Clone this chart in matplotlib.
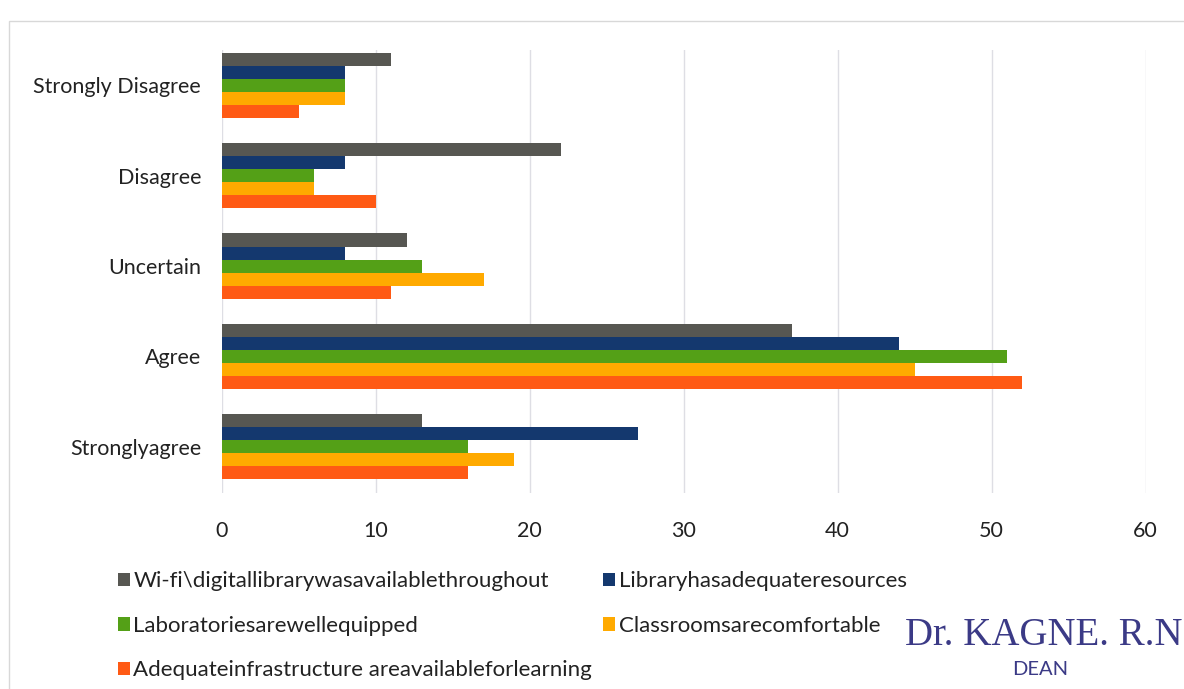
import matplotlib
matplotlib.use("Agg")
import matplotlib.pyplot as plt
import numpy as np
from matplotlib.patches import Rectangle

plt.rcParams['font.family'] = ['Lato', 'DejaVu Sans']

# categories from bottom to top
categories = ['Stronglyagree', 'Agree', 'Uncertain', 'Disagree', 'Strongly Disagree']

series_names = [
    'Wi-fi\\digitallibrarywasavailablethroughout',
    'Libraryhasadequateresources',
    'Laboratoriesarewellequipped',
    'Classroomsarecomfortable',
    'Adequateinfrastructure areavailableforlearning',
]
wifi = [13, 37, 12, 22, 11]
library = [27, 44, 8, 8, 8]
labs = [16, 51, 13, 6, 8]
classrooms = [19, 45, 17, 6, 8]
infra = [16, 52, 11, 10, 5]
colors = ['#575752', '#14386e', '#54a017', '#ffaa00', '#ff5a14']

values = [wifi, library, labs, classrooms, infra]

fig = plt.figure(figsize=(11.84, 6.89), dpi=100)
ax = fig.add_axes([0.1875, 0.2845, 0.78, 0.643])

y = np.arange(len(categories))
w = 0.144
handles = []
for k, (vals, col) in enumerate(zip(values, colors)):
    off = (2 - k) * w
    b = ax.barh(y + off, vals, height=w, color=col, label=series_names[k])
    handles.append(b)

ax.set_xlim(0, 60)
ax.set_ylim(-0.51, 4.39)
ax.set_xticks(range(0, 61, 10))
ax.set_yticks(y)
ax.set_yticklabels(categories)
ax.tick_params(axis='both', length=0, labelsize=15.5, colors='#222222')
ax.tick_params(axis='x', pad=20)
ax.tick_params(axis='y', pad=15)
ax.grid(axis='x', color='#dedee4', linewidth=1)
ax.set_axisbelow(True)
for s in ax.spines.values():
    s.set_visible(False)

# legend: column 1 then column 2
order = [0, 2, 4, 1, 3]
fig.legend([handles[i] for i in order], [series_names[i] for i in order],
           ncol=2, loc='upper left', bbox_to_anchor=(0.09, 0.187),
           frameon=False, fontsize=16, handlelength=0.55, handleheight=0.55,
           handletextpad=0.15, columnspacing=0.5, labelspacing=1.1,
           borderpad=0, labelcolor='#222222')

# outer chart frame
fig.patches.append(Rectangle((0.008, -0.01), 1.0, 0.98, transform=fig.transFigure,
                             fill=False, edgecolor='#d8d8d8', linewidth=1))

# stamp
fig.text(0.764, 0.064, 'Dr. KAGNE. R.N', fontsize=28, color='#3b3a86',
         family=['Liberation Serif', 'DejaVu Serif'])
fig.text(0.855, 0.02, 'DEAN', fontsize=14.5, color='#3b3a86')

fig.savefig('out.png', dpi=100, facecolor='white')
